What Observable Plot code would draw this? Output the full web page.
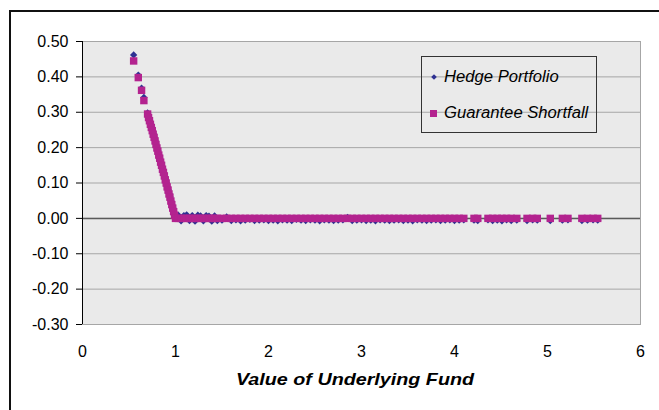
<!DOCTYPE html>
<html>
<head>
<meta charset="utf-8">
<script src="https://cdn.jsdelivr.net/npm/d3@7"></script>
<script src="https://cdn.jsdelivr.net/npm/@observablehq/plot@0.6"></script>
<style>
  html, body { margin: 0; padding: 0; background: #fff; overflow: hidden; }
  #wrap { position: relative; width: 659px; height: 410px; overflow: hidden; font-family: "Liberation Sans", Arial, sans-serif; }
  #chart { position: absolute; left: 0; top: 0; }
  #outer { position: absolute; left: 9px; top: 10px; width: 700px; height: 500px; border: 2px solid #111; box-sizing: border-box; }
  #xtitle { position: absolute; left: 355px; top: 380px; transform: translate(-50%, -50%) scaleX(1.16); font-weight: bold; font-style: italic; font-size: 17px; white-space: nowrap; color: #000; }
  #legend { position: absolute; left: 421px; top: 56px; width: 176px; height: 77px; border: 1px solid #333; box-sizing: border-box; }
  .li { position: absolute; left: 22px; font-style: italic; font-size: 16px; white-space: nowrap; color: #000; transform-origin: left center; transform: translateY(-50%) scaleX(1.04); }
  .mk { position: absolute; }
</style>
</head>
<body>
<div id="wrap">
  <div id="chart"></div>
  <div id="outer"></div>
  <div id="legend"></div>
  <div id="xtitle"></div>
</div>
<script>
// ---- data ----
const seriesNames = ["Hedge Portfolio", "Guarantee Shortfall"];
const axisTitle = "Value of Underlying Fund";
const xTicks = [0, 1, 2, 3, 4, 5, 6];
const yTicks = [-0.3, -0.2, -0.1, 0, 0.1, 0.2, 0.3, 0.4, 0.5];

const fundValue = [
  0.55, 0.60, 0.635, 0.66, 0.70, 0.71, 0.72, 0.73, 0.74, 0.75,
  0.76, 0.77, 0.78, 0.79, 0.80, 0.81, 0.82, 0.83, 0.84, 0.85,
  0.86, 0.87, 0.88, 0.89, 0.90, 0.91, 0.92, 0.93, 0.94, 0.95,
  0.96, 0.97, 0.98, 0.99, 1.00,
  1.03, 1.06, 1.09, 1.12, 1.15, 1.18, 1.21, 1.24, 1.27, 1.30,
  1.33, 1.36, 1.39, 1.42, 1.45,
  1.50, 1.55, 1.60, 1.65, 1.70, 1.75, 1.80, 1.85, 1.90, 1.95,
  2.00, 2.05, 2.10, 2.15, 2.20, 2.25, 2.30, 2.35, 2.40, 2.45,
  2.50, 2.55, 2.60, 2.65, 2.70, 2.75, 2.80, 2.85, 2.90, 2.95,
  3.00, 3.05, 3.10, 3.15, 3.20, 3.25, 3.30, 3.35, 3.40, 3.45,
  3.50, 3.55, 3.60, 3.65, 3.70, 3.75, 3.80, 3.85, 3.90, 3.95,
  4.00, 4.05, 4.10,
  4.21, 4.25,
  4.36, 4.41, 4.46, 4.51, 4.56, 4.61, 4.67,
  4.78, 4.84, 4.89,
  5.03,
  5.16, 5.22,
  5.37, 5.43, 5.49, 5.54
];

const hedgeValue = [
  0.462, 0.405, 0.368, 0.342, 0.298, 0.287, 0.278, 0.268, 0.259, 0.249,
  0.240, 0.230, 0.221, 0.210, 0.200, 0.191, 0.180, 0.171, 0.160, 0.151,
  0.140, 0.131, 0.121, 0.110, 0.101, 0.090, 0.081, 0.070, 0.061, 0.050,
  0.040, 0.030, 0.021, 0.010, 0.004,
  0.009, -0.007, 0.008, 0.010, -0.006, 0.008, -0.008, 0.009, 0.007, -0.007,
  0.008, 0.006, -0.008, 0.007, -0.006,
  -0.005, 0.004, -0.006, -0.004, -0.007, -0.005, -0.003, -0.006, -0.005, -0.004,
  -0.006, -0.005, -0.007, -0.004, -0.005, -0.006, -0.003, -0.005, -0.006, -0.004,
  -0.005, -0.007, -0.004, -0.005, -0.006, -0.005, -0.004, 0.003, -0.006, -0.005,
  -0.004, -0.006, -0.005, -0.007, -0.004, -0.005, -0.006, -0.005, -0.004, -0.006,
  -0.005, -0.007, -0.004, -0.005, -0.006, -0.005, -0.004, -0.006, -0.005, -0.004,
  -0.006, -0.005, -0.004,
  -0.005, -0.006,
  -0.004, -0.006, -0.005, -0.007, -0.004, -0.006, -0.005,
  -0.006, -0.004, -0.005,
  -0.006,
  -0.005, -0.004,
  -0.006, -0.005, -0.004, -0.005
];

const shortfallValue = [
  0.445, 0.398, 0.362, 0.333, 0.295, 0.285, 0.276, 0.266, 0.257, 0.248,
  0.238, 0.229, 0.219, 0.209, 0.199, 0.190, 0.179, 0.170, 0.159, 0.150,
  0.139, 0.130, 0.120, 0.109, 0.100, 0.089, 0.080, 0.069, 0.060, 0.049,
  0.039, 0.029, 0.019, 0.009, 0.000,
  0, 0, 0, 0, 0, 0, 0, 0, 0, 0,
  0, 0, 0, 0, 0,
  0, 0, 0, 0, 0, 0, 0, 0, 0, 0,
  0, 0, 0, 0, 0, 0, 0, 0, 0, 0,
  0, 0, 0, 0, 0, 0, 0, 0, 0, 0,
  0, 0, 0, 0, 0, 0, 0, 0, 0, 0,
  0, 0, 0, 0, 0, 0, 0, 0, 0, 0,
  0, 0, 0,
  0, 0,
  0, 0, 0, 0, 0, 0, 0,
  0, 0, 0,
  0,
  0, 0,
  0, 0, 0, 0
];

const colors = { hedge: "#2E3192", shortfall: "#B3238F" };

// ---- build table ----
const rows = fundValue.map((x, i) => ({ x, hedge: hedgeValue[i], shortfall: shortfallValue[i] }));

const chart = Plot.plot({
  width: 659,
  height: 410,
  marginLeft: 82,
  marginRight: 19,
  marginTop: 41,
  marginBottom: 86,
  x: { domain: [0, 6] },
  y: { domain: [-0.3, 0.5] },
  style: { background: "transparent", fontFamily: "'Liberation Sans', Arial, sans-serif", fontSize: "16px", color: "#000" },
  marks: [
    Plot.frame({ fill: "#EAEAEA", stroke: "#A6A6A6" }),
    Plot.gridY(yTicks, { stroke: "#A6A6A6", strokeOpacity: 1, strokeWidth: 1 }),
    Plot.ruleY([0], { stroke: "#5A5A5A", strokeWidth: 1.5 }),
    Plot.ruleX([0], { stroke: "#000", strokeWidth: 1 }),
    Plot.axisY(yTicks, { tickSize: 6, tickPadding: 8, tickFormat: d => d.toFixed(2), label: null, stroke: "#000" }),
    Plot.axisX(xTicks, { tickSize: 0, tickPadding: 21, tickFormat: d => String(d), label: null }),
    Plot.dot(rows, { x: "x", y: "hedge", symbol: "diamond2", r: 3.3, fill: colors.hedge, stroke: "none" }),
    Plot.dot(rows, { x: "x", y: "shortfall", symbol: "square", r: 4.2, fill: colors.shortfall, stroke: "none" })
  ]
});
document.getElementById("chart").appendChild(chart);

document.getElementById("xtitle").textContent = axisTitle;

// legend
const legend = document.getElementById("legend");
const entries = [
  { name: seriesNames[0], color: colors.hedge, shape: "diamond", cy: 19.5 },
  { name: seriesNames[1], color: colors.shortfall, shape: "square", cy: 56 }
];
for (const e of entries) {
  const m = document.createElement("div");
  m.className = "mk";
  if (e.shape === "square") {
    Object.assign(m.style, { left: "8px", top: (e.cy - 3.5) + "px", width: "7px", height: "7px", background: e.color });
  } else {
    Object.assign(m.style, { left: "9.5px", top: (e.cy - 2) + "px", width: "4px", height: "4px", background: e.color, transform: "rotate(45deg)" });
  }
  legend.appendChild(m);
  const t = document.createElement("div");
  t.className = "li";
  t.style.top = e.cy + "px";
  t.textContent = e.name;
  legend.appendChild(t);
}
</script>
</body>
</html>
